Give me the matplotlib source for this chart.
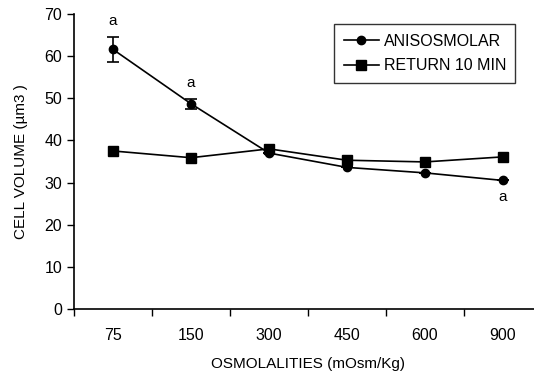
import matplotlib
matplotlib.use("Agg")
import matplotlib.pyplot as plt
import numpy as np

plt.rcParams["font.family"] = ["Liberation Sans", "DejaVu Sans"]

OSMOLALITIES = ["75", "150", "300", "450", "600", "900"]
ANISOSMOLAR = [61.6, 48.7, 37.0, 33.6, 32.3, 30.5]
ANISOSMOLAR_ERR = [3.0, 1.2, 0.0, 0.0, 0.0, 0.0]
RETURN_10MIN = [37.5, 35.9, 38.0, 35.3, 34.9, 36.1]
SIGNIF = ["a", "a", "", "", "", "a"]

fig = plt.figure(figsize=(5.34, 3.75), dpi=100)
ax = fig.add_axes([74 / 534, (375 - 309) / 375, 468 / 534, 295 / 375])

x = np.arange(len(OSMOLALITIES))
ax.errorbar(x, ANISOSMOLAR, yerr=ANISOSMOLAR_ERR, fmt="none", ecolor="black",
            capsize=4, elinewidth=1.2, capthick=1.2)
l1, = ax.plot(x, ANISOSMOLAR, color="black", marker="o", markersize=6, lw=1.2,
              label="ANISOSMOLAR")
l2, = ax.plot(x, RETURN_10MIN, color="black", marker="s", markersize=6.5, lw=1.2,
              label="RETURN 10 MIN")

for i, s in enumerate(SIGNIF):
    if not s:
        continue
    if i == len(SIGNIF) - 1:
        ax.text(x[i], ANISOSMOLAR[i] - 2.2, s, ha="center", va="top", fontsize=11)
    else:
        ax.text(x[i], ANISOSMOLAR[i] + ANISOSMOLAR_ERR[i] + 2.0, s,
                ha="center", va="bottom", fontsize=11)

ax.set_xlim(-0.5, len(OSMOLALITIES) - 0.5)
ax.set_ylim(0, 70)
ax.set_yticks(range(0, 71, 10))
ax.set_xticks(x)
ax.set_xticklabels(OSMOLALITIES)
ax.set_xticks(np.arange(-0.5, len(OSMOLALITIES)), minor=True)
ax.tick_params(axis="x", which="major", length=0, pad=14, labelsize=11.5)
ax.tick_params(axis="x", which="minor", length=5, direction="out", width=1)
ax.tick_params(axis="y", length=5, direction="out", width=1, labelsize=11.5)

for side in ["top", "right"]:
    ax.spines[side].set_visible(False)
for side in ["left", "bottom"]:
    ax.spines[side].set_linewidth(1.2)

ax.set_xlabel("OSMOLALITIES (mOsm/Kg)", fontsize=11, labelpad=10)
ax.set_ylabel("CELL VOLUME (µm3 )", fontsize=11, labelpad=12)

leg = ax.legend(handles=[l1, l2], loc="upper left",
                bbox_to_anchor=(260 / 468, 1 - 10 / 295),
                frameon=True, fancybox=False, edgecolor="black", fontsize=11.5,
                handlelength=2.2, handletextpad=0.3, borderpad=0.6,
                labelspacing=0.6, borderaxespad=0)
leg.get_frame().set_linewidth(1.0)

fig.savefig("out.png", dpi=100)
